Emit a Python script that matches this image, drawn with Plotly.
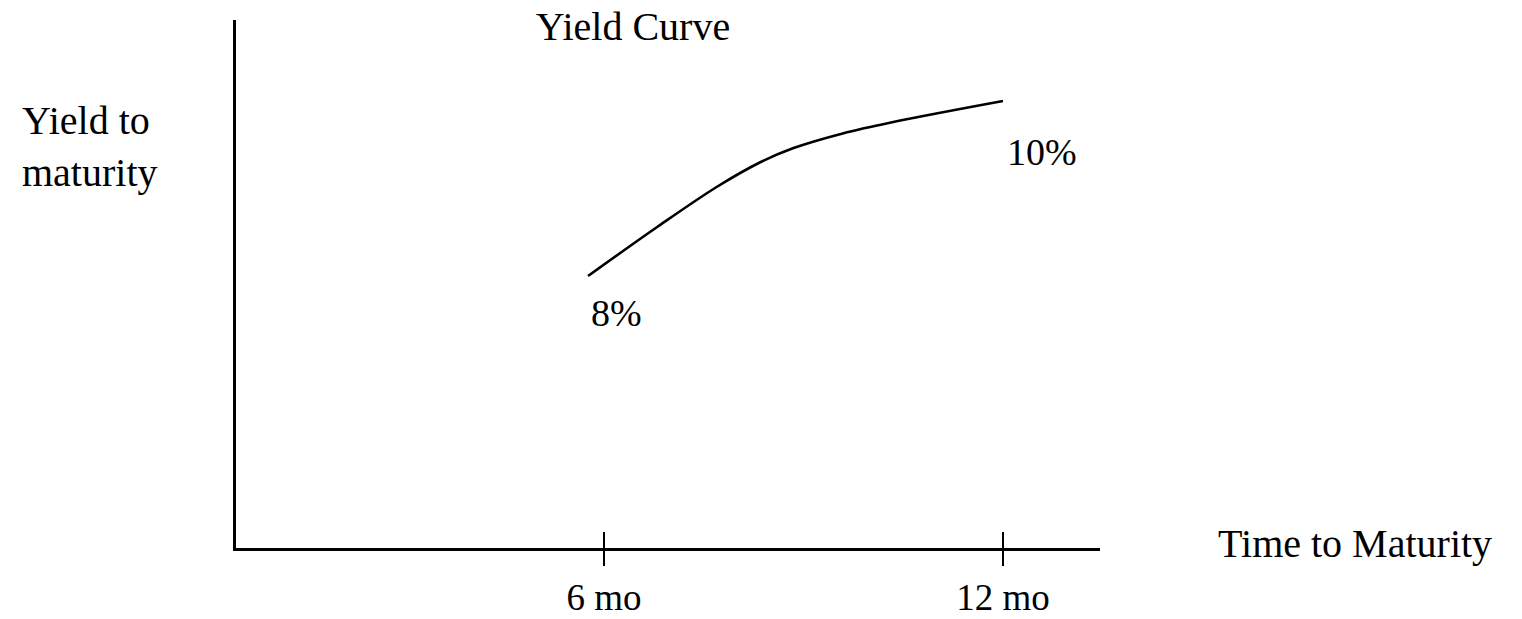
import plotly.graph_objects as go

# Data
maturity_months = [5.76, 6.80, 7.70, 8.35, 8.84, 9.59, 10.35, 12.0]
yield_pct = [8.0, 8.56, 9.02, 9.30, 9.46, 9.63, 9.76, 10.0]
tick_vals = [6, 12]
tick_text = ["6 mo", "12 mo"]
start_label = "8%"
end_label = "10%"
title_text = "Yield Curve"
y_title = "Yield to<br>maturity"
x_title = "Time to Maturity"

FONT = "Liberation Serif"
FS_WORDS = 40
FS_NUM = 38
FS_TICK = 37

W, H = 1522, 619
L, R, T, B = 236, 422, 20, 71

x_range = [0.466, 13.459]
y_range = [4.891, 10.926]

fig = go.Figure()
fig.add_trace(go.Scatter(
    x=maturity_months, y=yield_pct, mode="lines",
    line=dict(color="black", width=2.6, shape="spline", smoothing=1.0),
    hoverinfo="skip", showlegend=False,
))

fig.update_layout(
    width=W, height=H,
    margin=dict(l=L, r=R, t=T, b=B, pad=0, autoexpand=False),
    paper_bgcolor="white", plot_bgcolor="white",
    font=dict(family=FONT, size=FS_WORDS, color="black"),
    showlegend=False,
    title=dict(text=title_text, x=(633 - L) / (W - L - R), xref="paper",
               y=1 - 26 / H, yref="container", xanchor="center", yanchor="middle",
               font=dict(family=FONT, size=FS_WORDS, color="black")),
    xaxis=dict(range=x_range, showgrid=False, zeroline=False,
               showline=True, linecolor="black", linewidth=2.5,
               ticks="outside", ticklen=15, tickwidth=2, tickcolor="black",
               tickvals=tick_vals, ticktext=tick_text, ticklabelstandoff=0,
               tickfont=dict(family=FONT, size=FS_TICK, color="black"),
               automargin=False, fixedrange=True),
    xaxis2=dict(range=x_range, overlaying="x", anchor="y", side="bottom",
                showgrid=False, zeroline=False, showline=False,
                ticks="inside", ticklen=16, tickwidth=2, tickcolor="black",
                tickvals=tick_vals, showticklabels=False, automargin=False,
                fixedrange=True),
    yaxis=dict(range=y_range, showgrid=False, zeroline=False,
               showline=True, linecolor="black", linewidth=2.5,
               ticks="", showticklabels=False, automargin=False, fixedrange=True),
)

# invisible trace to activate xaxis2 (the upper half of the crossing tick marks)
fig.add_trace(go.Scatter(x=[maturity_months[0]], y=[yield_pct[0]], xaxis="x2",
                         mode="markers", marker=dict(opacity=0), hoverinfo="skip",
                         showlegend=False))

pw = W - L - R
ph = H - T - B

fig.add_annotation(text=y_title, xref="paper", yref="paper",
                   x=(20 - L) / pw, y=(548 - 146) / ph, xanchor="left", yanchor="middle",
                   align="left", showarrow=False,
                   font=dict(family=FONT, size=FS_WORDS, color="black"))
fig.add_annotation(text=x_title, xref="paper", yref="paper",
                   x=(1216 - L) / pw, y=(548 - 543) / ph, xanchor="left", yanchor="middle",
                   align="left", showarrow=False,
                   font=dict(family=FONT, size=FS_WORDS, color="black"))
fig.add_annotation(text=start_label, x=maturity_months[0], y=yield_pct[0],
                   xref="x", yref="y", xanchor="center", yanchor="middle",
                   xshift=28, yshift=-37, showarrow=False,
                   font=dict(family=FONT, size=FS_NUM, color="black"))
fig.add_annotation(text=end_label, x=maturity_months[-1], y=yield_pct[-1],
                   xref="x", yref="y", xanchor="center", yanchor="middle",
                   xshift=39, yshift=-51, showarrow=False,
                   font=dict(family=FONT, size=FS_NUM, color="black"))

fig.write_html(
    "out.html",
    config={"displayModeBar": False},
    post_script="document.body.style.margin='0';document.body.style.overflow='hidden';",
)
